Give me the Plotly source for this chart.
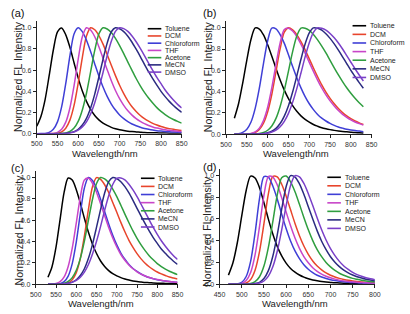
import plotly.graph_objects as go

# ---------------- data ----------------
solvents = ["Toluene", "DCM", "Chloroform", "THF", "Acetone", "MeCN", "DMSO"]
colors = ["#000000", "#e8452c", "#3f3fd6", "#c845c8", "#2f9e3f", "#2b2b80", "#7a40c8"]

x_ticks_a = [500, 550, 600, 650, 700, 750, 800, 850]
x_ticks_d = [450, 500, 550, 600, 650, 700, 750, 800]
y_ticks = [0.0, 0.2, 0.4, 0.6, 0.8, 1.0]

# panel (a): 500-850 nm
wl_a = list(range(500, 851, 10))
a_toluene = [0.07, 0.163, 0.32, 0.55, 0.79, 0.96, 0.998, 0.933, 0.815, 0.67,
             0.527, 0.403, 0.305, 0.229, 0.172, 0.131, 0.10, 0.078, 0.06, 0.047,
             0.037, 0.030, 0.024, 0.020, 0.017, 0.014, 0.011, 0.010, 0.009, 0.008,
             0.007, 0.006, 0.005, 0.005, 0.004, 0.004]
a_dcm = [0, 0, 0, 0, 0.001, 0.005, 0.018, 0.052, 0.128, 0.267,
         0.477, 0.719, 0.921, 1.0, 0.981, 0.926, 0.845, 0.748, 0.645, 0.548,
         0.457, 0.378, 0.31, 0.254, 0.21, 0.172, 0.142, 0.118, 0.098, 0.082,
         0.068, 0.057, 0.048, 0.041, 0.035, 0.030]
a_chloroform = [0, 0.001, 0.003, 0.012, 0.041, 0.112, 0.253, 0.474, 0.735, 0.941,
                1.0, 0.963, 0.882, 0.776, 0.658, 0.544, 0.44, 0.352, 0.28, 0.223,
                0.177, 0.142, 0.114, 0.092, 0.075, 0.061, 0.050, 0.042, 0.035, 0.029,
                0.025, 0.021, 0.018, 0.016, 0.014, 0.011]
a_thf = [0, 0, 0, 0.001, 0.003, 0.013, 0.042, 0.109, 0.243, 0.452,
         0.702, 0.915, 1.0, 0.978, 0.915, 0.821, 0.712, 0.604, 0.5, 0.408,
         0.331, 0.268, 0.216, 0.175, 0.142, 0.116, 0.095, 0.078, 0.064, 0.053,
         0.045, 0.038, 0.032, 0.027, 0.023, 0.020]
a_acetone = [0, 0, 0, 0, 0, 0.001, 0.003, 0.008, 0.022, 0.053,
             0.116, 0.224, 0.382, 0.584, 0.786, 0.942, 1.0, 0.988, 0.954, 0.9,
             0.832, 0.756, 0.676, 0.597, 0.521, 0.452, 0.39, 0.337, 0.29, 0.246,
             0.211, 0.181, 0.155, 0.134, 0.116, 0.10]
a_mecn = [0, 0, 0, 0, 0, 0, 0.001, 0.003, 0.009, 0.02,
          0.042, 0.082, 0.145, 0.243, 0.374, 0.535, 0.702, 0.855, 0.962, 1.0,
          0.99, 0.963, 0.92, 0.863, 0.797, 0.728, 0.655, 0.585, 0.519, 0.458,
          0.4, 0.35, 0.305, 0.266, 0.232, 0.202]
a_dmso = [0, 0, 0, 0, 0, 0, 0, 0.003, 0.007, 0.016,
          0.033, 0.0625, 0.112, 0.186, 0.293, 0.425, 0.578, 0.735, 0.872, 0.966,
          1.0, 0.991, 0.965, 0.922, 0.868, 0.805, 0.737, 0.666, 0.598, 0.532,
          0.472, 0.413, 0.362, 0.317, 0.277, 0.243]

# panel (b): 520-830 nm
wl_b = list(range(520, 831, 10))
b_toluene = [0.15, 0.286, 0.48, 0.699, 0.892, 0.998, 0.988, 0.932, 0.84, 0.732,
             0.618, 0.51, 0.414, 0.334, 0.268, 0.215, 0.172, 0.139, 0.113, 0.091,
             0.075, 0.061, 0.051, 0.043, 0.036, 0.030, 0.025, 0.022, 0.019, 0.016,
             0.014, 0.012]
b_dcm = [0, 0, 0, 0.002, 0.005, 0.016, 0.044, 0.103, 0.21, 0.375,
         0.588, 0.803, 0.958, 0.999, 0.98, 0.935, 0.87, 0.793, 0.708, 0.622,
         0.54, 0.463, 0.395, 0.337, 0.286, 0.241, 0.203, 0.172, 0.147, 0.125,
         0.107, 0.091]
b_chloroform = [0.001, 0.005, 0.017, 0.047, 0.114, 0.242, 0.432, 0.665, 0.878, 0.997,
                0.989, 0.936, 0.853, 0.746, 0.635, 0.53, 0.435, 0.353, 0.286, 0.231,
                0.186, 0.151, 0.124, 0.101, 0.083, 0.068, 0.057, 0.047, 0.04, 0.034,
                0.029, 0.024]
b_thf = [0, 0, 0.001, 0.002, 0.007, 0.022, 0.057, 0.129, 0.253, 0.437,
         0.655, 0.858, 0.983, 0.996, 0.969, 0.917, 0.845, 0.762, 0.675, 0.59,
         0.508, 0.434, 0.369, 0.313, 0.265, 0.222, 0.187, 0.159, 0.135, 0.115,
         0.099, 0.085]
b_acetone = [0, 0, 0, 0, 0, 0.002, 0.006, 0.016, 0.037, 0.077,
             0.149, 0.261, 0.412, 0.593, 0.776, 0.922, 0.996, 0.996, 0.975, 0.937,
             0.886, 0.827, 0.763, 0.693, 0.624, 0.557, 0.494, 0.436, 0.384, 0.337,
             0.295, 0.258]
b_mecn = [0, 0, 0, 0, 0, 0.001, 0.003, 0.006, 0.014, 0.028,
          0.055, 0.1, 0.17, 0.268, 0.396, 0.547, 0.704, 0.847, 0.952, 0.999,
          0.995, 0.977, 0.943, 0.9, 0.848, 0.789, 0.727, 0.663, 0.6, 0.542,
          0.484, 0.432]
b_dmso = [0, 0, 0, 0, 0, 0, 0.002, 0.004, 0.009, 0.02,
          0.038, 0.07, 0.121, 0.196, 0.299, 0.428, 0.575, 0.726, 0.859, 0.956,
          0.999, 0.995, 0.978, 0.946, 0.905, 0.856, 0.8, 0.738, 0.676, 0.615,
          0.556, 0.5]

# panel (c): 530-850 nm
wl_c = list(range(530, 851, 10))
c_toluene = [0.065, 0.164, 0.35, 0.609, 0.863, 0.996, 0.977, 0.887, 0.76, 0.619,
             0.487, 0.376, 0.288, 0.218, 0.167, 0.128, 0.099, 0.078, 0.062, 0.049,
             0.039, 0.031, 0.025, 0.021, 0.017, 0.015, 0.012, 0.010, 0.009, 0.008,
             0.007, 0.006, 0.006]
c_dcm = [0, 0, 0, 0.001, 0.003, 0.013, 0.042, 0.109, 0.243, 0.452,
         0.702, 0.915, 1.0, 0.983, 0.933, 0.86, 0.766, 0.675, 0.58, 0.492,
         0.412, 0.346, 0.287, 0.238, 0.197, 0.164, 0.138, 0.115, 0.097, 0.082,
         0.068, 0.059, 0.05]
c_chloroform = [0, 0, 0.001, 0.006, 0.025, 0.077, 0.194, 0.397, 0.664, 0.903,
                1.0, 0.973, 0.9, 0.798, 0.682, 0.566, 0.46, 0.369, 0.293, 0.234,
                0.185, 0.148, 0.12, 0.096, 0.078, 0.063, 0.052, 0.043, 0.036, 0.030,
                0.025, 0.021, 0.018]
c_thf = [0, 0.002, 0.007, 0.024, 0.069, 0.167, 0.338, 0.575, 0.82, 0.978,
         0.994, 0.947, 0.862, 0.755, 0.643, 0.531, 0.433, 0.349, 0.279, 0.225,
         0.18, 0.145, 0.117, 0.095, 0.078, 0.064, 0.053, 0.044, 0.037, 0.031,
         0.026, 0.022, 0.019]
c_acetone = [0, 0, 0.001, 0.003, 0.01, 0.027, 0.0625, 0.131, 0.243, 0.405,
             0.601, 0.797, 0.945, 1.0, 0.987, 0.951, 0.891, 0.821, 0.741, 0.658,
             0.577, 0.5, 0.43, 0.369, 0.315, 0.268, 0.229, 0.194, 0.166, 0.142,
             0.122, 0.105, 0.09]
c_mecn = [0, 0, 0, 0.001, 0.003, 0.009, 0.02, 0.042, 0.082, 0.145,
          0.243, 0.374, 0.535, 0.702, 0.855, 0.962, 1.0, 0.99, 0.961, 0.915,
          0.856, 0.786, 0.712, 0.639, 0.568, 0.5, 0.438, 0.383, 0.331, 0.29,
          0.25, 0.216, 0.187]
c_dmso = [0, 0, 0, 0.001, 0.004, 0.009, 0.018, 0.036, 0.066, 0.114,
          0.185, 0.283, 0.403, 0.543, 0.692, 0.829, 0.935, 0.993, 0.997, 0.978,
          0.938, 0.884, 0.821, 0.75, 0.677, 0.604, 0.533, 0.468, 0.408, 0.357,
          0.31, 0.268, 0.233]

# panel (d): 470-800 nm
wl_d = list(range(470, 801, 10))
d_toluene = [0.084, 0.195, 0.381, 0.627, 0.861, 0.992, 0.975, 0.886, 0.748, 0.598,
             0.462, 0.348, 0.26, 0.194, 0.145, 0.111, 0.085, 0.065, 0.05, 0.040,
             0.032, 0.025, 0.020, 0.017, 0.014, 0.012, 0.010, 0.009, 0.008, 0.007,
             0.006, 0.006, 0.005, 0.005]
d_dcm = [0, 0, 0, 0.003, 0.012, 0.044, 0.129, 0.3, 0.556, 0.829,
         0.99, 0.985, 0.918, 0.809, 0.683, 0.558, 0.446, 0.351, 0.275, 0.214,
         0.167, 0.132, 0.104, 0.083, 0.067, 0.054, 0.044, 0.036, 0.030, 0.025,
         0.021, 0.017, 0.015, 0.013]
d_chloroform = [0, 0, 0.003, 0.018, 0.071, 0.21, 0.469, 0.785, 0.987, 0.983,
                0.902, 0.783, 0.644, 0.512, 0.397, 0.306, 0.235, 0.179, 0.138, 0.107,
                0.083, 0.066, 0.052, 0.042, 0.034, 0.028, 0.023, 0.019, 0.016, 0.014,
                0.011, 0.010, 0.008, 0.007]
d_thf = [0, 0, 0.002, 0.008, 0.034, 0.108, 0.27, 0.529, 0.817, 0.989,
         0.984, 0.912, 0.795, 0.664, 0.537, 0.424, 0.33, 0.254, 0.197, 0.152,
         0.119, 0.093, 0.074, 0.059, 0.047, 0.038, 0.031, 0.026, 0.022, 0.018,
         0.016, 0.013, 0.011, 0.010]
d_acetone = [0, 0, 0, 0, 0.002, 0.007, 0.024, 0.069, 0.167, 0.338,
             0.575, 0.82, 0.978, 0.993, 0.94, 0.849, 0.734, 0.613, 0.5, 0.401,
             0.318, 0.253, 0.2, 0.159, 0.127, 0.101, 0.083, 0.067, 0.054, 0.045,
             0.037, 0.031, 0.026, 0.022]
d_mecn = [0, 0, 0, 0, 0, 0.001, 0.006, 0.018, 0.052, 0.125,
          0.257, 0.454, 0.689, 0.895, 0.997, 0.984, 0.922, 0.826, 0.712, 0.598,
          0.49, 0.395, 0.318, 0.253, 0.203, 0.162, 0.13, 0.104, 0.085, 0.069,
          0.057, 0.047, 0.040, 0.033]
d_dmso = [0, 0, 0, 0, 0, 0.001, 0.003, 0.011, 0.03, 0.074,
          0.16, 0.303, 0.5, 0.72, 0.907, 0.997, 0.985, 0.925, 0.831, 0.723,
          0.608, 0.5, 0.406, 0.327, 0.263, 0.21, 0.168, 0.137, 0.11, 0.089,
          0.073, 0.060, 0.050, 0.042]

series_a = [a_toluene, a_dcm, a_chloroform, a_thf, a_acetone, a_mecn, a_dmso]
series_b = [b_toluene, b_dcm, b_chloroform, b_thf, b_acetone, b_mecn, b_dmso]
series_c = [c_toluene, c_dcm, c_chloroform, c_thf, c_acetone, c_mecn, c_dmso]
series_d = [d_toluene, d_dcm, d_chloroform, d_thf, d_acetone, d_mecn, d_dmso]

# ---------------- layout ----------------
W, H = 410, 314
FONT = "Arial, Liberation Sans, sans-serif"


def fx(p):
    return p / W


def fy(p):
    return 1 - p / H


YMAX = 1.06
panels = [
    dict(label="(a)", wl=wl_a, ser=series_a, xr=[500, 850], xt=x_ticks_a,
         x0=31.7, x1=181.0, y0=135.0, y1=28.0, lab=(3, 13), ytit=(13, 77), xtit=(102, 155),
         leg=(146, 29, 7.3)),
    dict(label="(b)", wl=wl_b, ser=series_b, xr=[500, 850], xt=x_ticks_a,
         x0=226.7, x1=376.7, y0=135.5, y1=28.0, lab=(201, 13), ytit=(208, 77), xtit=(299, 155),
         leg=(357, 26, 8.7)),
    dict(label="(c)", wl=wl_c, ser=series_c, xr=[500, 850], xt=x_ticks_a,
         x0=30.7, x1=176.7, y0=287.0, y1=179.3, lab=(3, 170), ytit=(13, 232), xtit=(98, 306.5),
         leg=(139, 180, 8.2)),
    dict(label="(d)", wl=wl_d, ser=series_d, xr=[450, 800], xt=x_ticks_d,
         x0=220.0, x1=380.0, y0=287.0, y1=177.0, lab=(201, 169), ytit=(207, 233), xtit=(298, 306.5),
         leg=(331, 179, 8.6)),
]

fig = go.Figure()
annotations = []
shapes = []
layout_axes = {}

for i, p in enumerate(panels):
    n = "" if i == 0 else str(i + 1)
    xa, ya = "x" + n, "y" + n
    for name, col, ys in zip(solvents, colors, p["ser"]):
        fig.add_trace(go.Scatter(
            x=p["wl"], y=ys, mode="lines", name=name, xaxis=xa, yaxis=ya,
            line=dict(color=col, width=1.5, shape="spline", smoothing=0.8),
            showlegend=False, hoverinfo="x+y+name"))
    top_px = p["y0"] - YMAX * (p["y0"] - p["y1"])
    axis_common = dict(showline=True, linecolor="#222222", linewidth=1, ticks="outside",
                       ticklen=3, tickwidth=1, tickcolor="#222222", showgrid=False,
                       zeroline=False, tickfont=dict(family=FONT, size=7, color="#333333"))
    layout_axes["xaxis" + n] = dict(domain=[fx(p["x0"]), fx(p["x1"])], range=p["xr"],
                                    anchor=ya, tickvals=p["xt"], **axis_common)
    layout_axes["yaxis" + n] = dict(domain=[fy(p["y0"]), fy(top_px)], range=[0, YMAX],
                                    anchor=xa, tickvals=y_ticks, tickformat=".1f", **axis_common)
    annotations.append(dict(text=p["label"], x=fx(p["lab"][0]), y=fy(p["lab"][1]), xref="paper",
                            yref="paper", xanchor="left", yanchor="middle", showarrow=False,
                            font=dict(family=FONT, size=11, color="#111111")))
    annotations.append(dict(text="Normalized FL Intensity", x=fx(p["ytit"][0]), y=fy(p["ytit"][1]),
                            xref="paper", yref="paper", xanchor="center", yanchor="middle",
                            textangle=-90, showarrow=False,
                            font=dict(family=FONT, size=10.5, color="#222222")))
    annotations.append(dict(text="Wavelength/nm", x=fx(p["xtit"][0]), y=fy(p["xtit"][1]),
                            xref="paper", yref="paper", xanchor="center", yanchor="middle",
                            showarrow=False, font=dict(family=FONT, size=9.5, color="#222222")))
    lx, ly, step = p["leg"]
    for k, (name, col) in enumerate(zip(solvents, colors)):
        yy = ly + k * step
        shapes.append(dict(type="line", xref="paper", yref="paper", x0=fx(lx), x1=fx(lx + 14),
                           y0=fy(yy), y1=fy(yy), line=dict(color=col, width=1.6)))
        annotations.append(dict(text=name, x=fx(lx + 16), y=fy(yy), xref="paper", yref="paper",
                                xanchor="left", yanchor="middle", showarrow=False,
                                font=dict(family=FONT, size=7, color="#222222")))

fig.update_layout(
    width=W, height=H, margin=dict(l=0, r=0, t=0, b=0),
    paper_bgcolor="white", plot_bgcolor="white",
    font=dict(family=FONT),
    annotations=annotations, shapes=shapes, showlegend=False,
    **layout_axes)

fig.write_html("out.html", config={"displayModeBar": False},
               post_script="document.body.style.margin='0px';document.body.style.padding='0px';")
